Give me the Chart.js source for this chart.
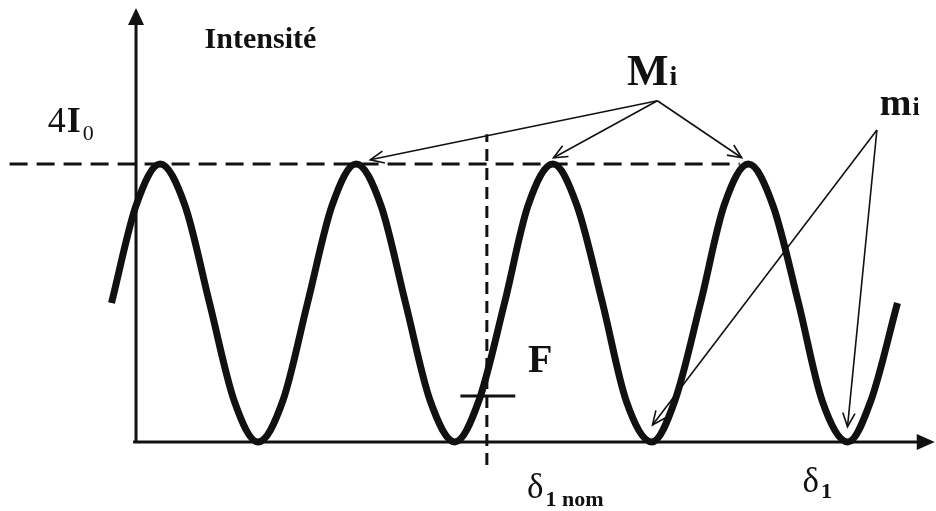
<!DOCTYPE html>
<html>
<head>
<meta charset="utf-8">
<script src="https://cdn.jsdelivr.net/npm/chart.js@4"></script>
<style>
  html, body { margin: 0; padding: 0; background: #fff; }
  #wrap { width: 936px; height: 511px; }
</style>
</head>
<body>
<div id="wrap"><canvas id="chart" width="936" height="511"></canvas></div>
<script>
// Intensity curve (x in half-periods, y in units of I0)
const deltaX = [-0.25, 0, 0.245, 0.5, 0.75, 1.0, 1.245, 1.5, 1.75, 2.0, 2.245, 2.5, 2.75, 3.0, 3.255,
  3.5, 3.76, 4.0, 4.255, 4.5, 4.76, 5.0, 5.265, 5.5, 5.76, 6.0, 6.25, 6.5, 6.76, 7.0, 7.265, 7.5, 7.77];
const intensity = [2.0, 3.4, 4.0, 3.4, 2.0, 0.6, 0, 0.6, 2.0, 3.4, 4.0, 3.4, 2.0, 0.6, 0,
  0.6, 2.0, 3.4, 4.0, 3.4, 2.0, 0.6, 0, 0.6, 2.0, 3.4, 4.0, 3.4, 2.0, 0.6, 0, 0.6, 2.0];

// guide values
const maxLevel = 4;             // 4 I0
const maxDashRange = [-1.29, 6.16];
const deltaNom = 3.58;          // δ1 nom
const nomDashRange = [-0.33, 4.43];
const fLevel = 0.66;            // point F
const fTickRange = [3.31, 3.87];

// pointer arrows: origin then tips
const bigMaxFrom = [5.32, 4.91];
const bigMaxTips = [[2.39, 4.06], [4.26, 4.09], [6.18, 4.09]];
const smallMinFrom = [7.56, 4.49];
const smallMinTips = [[5.27, 0.245], [7.26, 0.22]];

// axes extents
const xRange = [-1.388, 8.163];
const yRange = [-0.993, 6.36];
const yAxisTop = 6.245;
const xAxisRange = [-0.03, 8.15];

const curve = deltaX.map((x, i) => ({ x: x, y: intensity[i] }));

function seg(a, b) {
  return [{ x: a[0], y: a[1] }, { x: b[0], y: b[1] }];
}

const pointerSegs = [];
bigMaxTips.forEach(t => pointerSegs.push(seg(bigMaxFrom, t)));
smallMinTips.forEach(t => pointerSegs.push(seg(smallMinFrom, t)));

const serif = '"Liberation Serif", "DejaVu Serif", serif';

const sketchPlugin = {
  id: 'sketch',
  beforeDatasetsDraw(chart) {
    const ctx = chart.ctx;
    const sx = chart.scales.x, sy = chart.scales.y;
    const px = v => sx.getPixelForValue(v);
    const py = v => sy.getPixelForValue(v);
    ctx.save();
    ctx.strokeStyle = '#111';
    ctx.fillStyle = '#111';
    ctx.lineWidth = 3;
    // y axis
    ctx.beginPath();
    ctx.moveTo(px(0), py(0) + 1);
    ctx.lineTo(px(0), py(yAxisTop) + 12);
    ctx.stroke();
    ctx.beginPath();
    ctx.moveTo(px(0), py(yAxisTop));
    ctx.lineTo(px(0) - 8, py(yAxisTop) + 17);
    ctx.lineTo(px(0) + 8, py(yAxisTop) + 17);
    ctx.closePath();
    ctx.fill();
    // x axis
    ctx.beginPath();
    ctx.moveTo(px(xAxisRange[0]), py(0));
    ctx.lineTo(px(xAxisRange[1]) - 12, py(0));
    ctx.stroke();
    ctx.beginPath();
    ctx.moveTo(px(xAxisRange[1]), py(0));
    ctx.lineTo(px(xAxisRange[1]) - 18, py(0) - 8);
    ctx.lineTo(px(xAxisRange[1]) - 18, py(0) + 8);
    ctx.closePath();
    ctx.fill();
    ctx.restore();
  },
  afterDatasetsDraw(chart) {
    const ctx = chart.ctx;
    const sx = chart.scales.x, sy = chart.scales.y;
    const px = v => sx.getPixelForValue(v);
    const py = v => sy.getPixelForValue(v);
    ctx.save();
    // open arrowheads on pointer lines
    ctx.strokeStyle = '#111';
    ctx.lineWidth = 1.6;
    const heads = [];
    bigMaxTips.forEach(t => heads.push([bigMaxFrom, t]));
    smallMinTips.forEach(t => heads.push([smallMinFrom, t]));
    heads.forEach(([a, b]) => {
      const x0 = px(a[0]), y0 = py(a[1]), x1 = px(b[0]), y1 = py(b[1]);
      const ang = Math.atan2(y1 - y0, x1 - x0);
      const len = 15, spread = 0.42;
      ctx.beginPath();
      ctx.moveTo(x1 - len * Math.cos(ang - spread), y1 - len * Math.sin(ang - spread));
      ctx.lineTo(x1, y1);
      ctx.lineTo(x1 - len * Math.cos(ang + spread), y1 - len * Math.sin(ang + spread));
      ctx.stroke();
    });

    ctx.fillStyle = '#111';
    ctx.textBaseline = 'alphabetic';
    ctx.textAlign = 'left';
    function txt(s, x, y, font) {
      ctx.font = font;
      ctx.fillText(s, x, y);
      return x + ctx.measureText(s).width;
    }
    // Intensité
    txt('Intensité', px(0.70), py(5.67), 'bold 30px ' + serif);
    // 4I0
    let x = txt('4', px(-0.90), py(4.46), '36px ' + serif);
    x = txt('I', x + 1, py(4.46), 'bold 36px ' + serif);
    txt('0', x + 2, py(4.46) + 8, '22px ' + serif);
    // Mi
    x = txt('M', px(5.01), py(5.14), 'bold 44px ' + serif);
    txt('i', x + 1, py(5.14), 'bold 28px ' + serif);
    // mi
    x = txt('m', px(7.59), py(4.71), 'bold 38px ' + serif);
    txt('i', x + 1, py(4.71), 'bold 26px ' + serif);
    // F
    txt('F', px(4.0), py(1.01), 'bold 40px ' + serif);
    // δ1 nom
    x = txt('δ', px(3.99), py(-0.81), '35px ' + serif);
    txt('1 nom', x + 2, py(-0.81) + 8, 'bold 22px ' + serif);
    // δ1
    x = txt('δ', px(6.80), py(-0.72), '35px ' + serif);
    txt('1', x + 2, py(-0.72) + 6, 'bold 22px ' + serif);
    ctx.restore();
  }
};

const datasets = [
  {
    data: [{ x: maxDashRange[0], y: maxLevel }, { x: maxDashRange[1], y: maxLevel }],
    borderColor: '#111', borderWidth: 3, borderDash: [18, 9], pointRadius: 0, showLine: true
  },
  {
    data: [{ x: deltaNom, y: nomDashRange[0] }, { x: deltaNom, y: nomDashRange[1] }],
    borderColor: '#111', borderWidth: 3, borderDash: [12, 7], pointRadius: 0, showLine: true
  },
  {
    data: [{ x: fTickRange[0], y: fLevel }, { x: fTickRange[1], y: fLevel }],
    borderColor: '#111', borderWidth: 3, pointRadius: 0, showLine: true
  },
  {
    data: curve,
    borderColor: '#111', borderWidth: 7, pointRadius: 0, showLine: true,
    cubicInterpolationMode: 'monotone', borderCapStyle: 'butt'
  }
];
pointerSegs.forEach(s => datasets.push({
  data: s, borderColor: '#111', borderWidth: 1.6, pointRadius: 0, showLine: true
}));

new Chart(document.getElementById('chart').getContext('2d'), {
  type: 'scatter',
  data: { datasets: datasets },
  options: {
    responsive: false,
    animation: false,
    layout: { padding: 0 },
    plugins: { legend: { display: false }, tooltip: { enabled: false } },
    scales: {
      x: { type: 'linear', min: xRange[0], max: xRange[1], display: false },
      y: { type: 'linear', min: yRange[0], max: yRange[1], display: false }
    }
  },
  plugins: [sketchPlugin]
});
</script>
</body>
</html>
